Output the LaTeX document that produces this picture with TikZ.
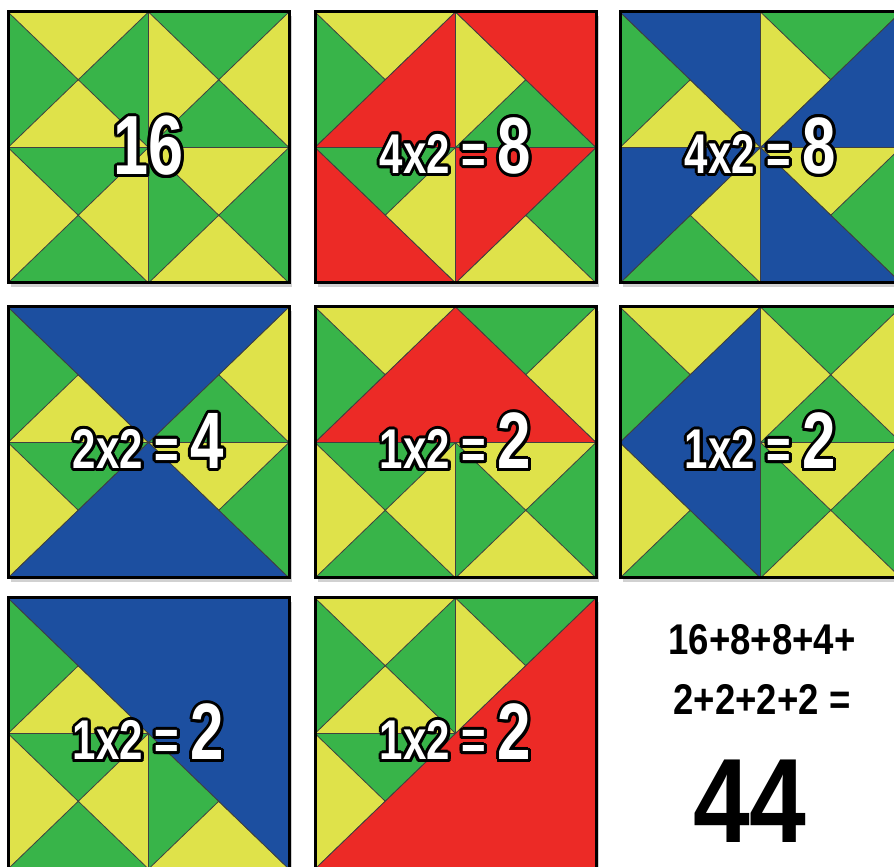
\documentclass[tikz,border=0pt]{standalone}
\usepackage{fontspec}
\usepackage{contour}
\newfontfamily\tagfont[FakeStretch=0.75]{Liberation Sans}
\newfontfamily\sumfont[FakeStretch=0.85]{Liberation Sans}
\newcommand{\tagsm}{\fontsize{56}{56}\selectfont}
\newcommand{\taglg}{\fontsize{80}{80}\selectfont}
\contourlength{3pt}

\definecolor{tgreen}{HTML}{38B449}
\definecolor{tyellow}{HTML}{DFE24A}
\definecolor{tred}{HTML}{EC2A26}
\definecolor{tblue}{HTML}{1C4FA0}

\tikzset{
  seam/.style={draw=black!75, line width=0.8pt, line join=round},
  tileframe/.style={draw=black, line width=3pt},
  tileshadow/.style={fill=black!18},
  tag/.style={text=white, inner sep=0pt, font=\tagfont\bfseries},
  sumtext/.style={text=black, inner sep=0pt, font=\sumfont\bfseries},
}

% shadow, yellow square, the 8 green triangles and all seams
\newcommand{\basetile}{%
  \fill[tileshadow] (0.012,-0.016) rectangle (1.012,0.984);
  \fill[tyellow] (0,0) rectangle (1,1);
  \fill[tgreen] (0,1) -- (0,0.5) -- (0.25,0.75) -- cycle
    (0.5,1) -- (0.5,0.5) -- (0.25,0.75) -- cycle
    (0.5,1) -- (1,1) -- (0.75,0.75) -- cycle
    (0.5,0.5) -- (1,0.5) -- (0.75,0.75) -- cycle
    (0,0.5) -- (0.5,0.5) -- (0.25,0.25) -- cycle
    (0,0) -- (0.5,0) -- (0.25,0.25) -- cycle
    (0.5,0.5) -- (0.5,0) -- (0.75,0.25) -- cycle
    (1,0.5) -- (1,0) -- (0.75,0.25) -- cycle;
  \draw[seam] (0.5,0) -- (0.5,1) (0,0.5) -- (1,0.5)
    (0,0) -- (1,1) (0,1) -- (1,0)
    (0.5,0) -- (1,0.5) -- (0.5,1) -- (0,0.5) -- cycle;
}

\begin{document}
\begin{tikzpicture}[x=1pt, y=1pt]
    \fill[white] (0,0) rectangle (894,867);
    \useasboundingbox (0,0) rectangle (894,867);

    % Row 1
    \begin{scope}[shift={(8,584)}, x=281pt, y=271pt]
      \basetile
      \draw[tileframe] (0,0) rectangle (1,1);
      \node[tag] (all16) at (0.5,0.5) {\contour{black}{\fontsize{84}{84}\selectfont 16}};
    \end{scope}

    \begin{scope}[shift={(315,584)}, x=281pt, y=271pt]
      \basetile
      % four red triangles
      \path[seam, fill=tred] (0,0.5) -- (0.5,1) -- (0.5,0.5) -- cycle
        (0.5,1) -- (1,1) -- (1,0.5) -- cycle
        (0,0.5) -- (0,0) -- (0.5,0) -- cycle
        (0.5,0.5) -- (1,0.5) -- (0.5,0) -- cycle;
      \draw[tileframe] (0,0) rectangle (1,1);
      \node[tag] (red8) at (0.5,0.5) {\contour{black}{\tagsm 4x2 = \taglg 8}};
    \end{scope}

    \begin{scope}[shift={(620,584)}, x=281pt, y=271pt]
      \basetile
      % four blue triangles
      \path[seam, fill=tblue] (0,1) -- (0.5,1) -- (0.5,0.5) -- cycle
        (1,1) -- (1,0.5) -- (0.5,0.5) -- cycle
        (0,0.5) -- (0.5,0.5) -- (0,0) -- cycle
        (0.5,0.5) -- (0.5,0) -- (1,0) -- cycle;
      \draw[tileframe] (0,0) rectangle (1,1);
      \node[tag] (blue8) at (0.5,0.5) {\contour{black}{\tagsm 4x2 = \taglg 8}};
    \end{scope}

    % Row 2
    \begin{scope}[shift={(8,289)}, x=281pt, y=271pt]
      \basetile
      \path[seam, fill=tblue] (0,1) -- (1,1) -- (0.5,0.5) -- cycle
        (0,0) -- (1,0) -- (0.5,0.5) -- cycle;
      \draw[tileframe] (0,0) rectangle (1,1);
      \node[tag] (blue4) at (0.5,0.5) {\contour{black}{\tagsm 2x2 = \taglg 4}};
    \end{scope}

    \begin{scope}[shift={(315,289)}, x=281pt, y=271pt]
      \basetile
      \path[seam, fill=tred] (0,0.5) -- (0.5,1) -- (1,0.5) -- cycle;
      \draw[tileframe] (0,0) rectangle (1,1);
      \node[tag] (redtop) at (0.5,0.5) {\contour{black}{\tagsm 1x2 = \taglg 2}};
    \end{scope}

    \begin{scope}[shift={(620,289)}, x=281pt, y=271pt]
      \basetile
      \path[seam, fill=tblue] (0.5,1) -- (0,0.5) -- (0.5,0) -- cycle;
      \draw[tileframe] (0,0) rectangle (1,1);
      \node[tag] (blueleft) at (0.5,0.5) {\contour{black}{\tagsm 1x2 = \taglg 2}};
    \end{scope}

    % Row 3
    \begin{scope}[shift={(8,-2)}, x=281pt, y=271pt]
      \basetile
      \path[seam, fill=tblue] (0,1) -- (1,1) -- (1,0) -- cycle;
      \draw[tileframe] (0,0) rectangle (1,1);
      \node[tag] (bluehalf) at (0.5,0.5) {\contour{black}{\tagsm 1x2 = \taglg 2}};
    \end{scope}

    \begin{scope}[shift={(315,-2)}, x=281pt, y=271pt]
      \basetile
      \path[seam, fill=tred] (0,0) -- (1,0) -- (1,1) -- cycle;
      \draw[tileframe] (0,0) rectangle (1,1);
      \node[tag] (redhalf) at (0.5,0.5) {\contour{black}{\tagsm 1x2 = \taglg 2}};
    \end{scope}

    % the sum
    \node[sumtext] (sumrow1) at (762,227) {\fontsize{43}{43}\selectfont 16+8+8+4+};
    \node[sumtext] (sumrow2) at (762,168) {\fontsize{43}{43}\selectfont 2+2+2+2 =};
    \node[sumtext] (total) at (750,66) {\fontsize{120}{120}\selectfont 44};
\end{tikzpicture}
\end{document}
